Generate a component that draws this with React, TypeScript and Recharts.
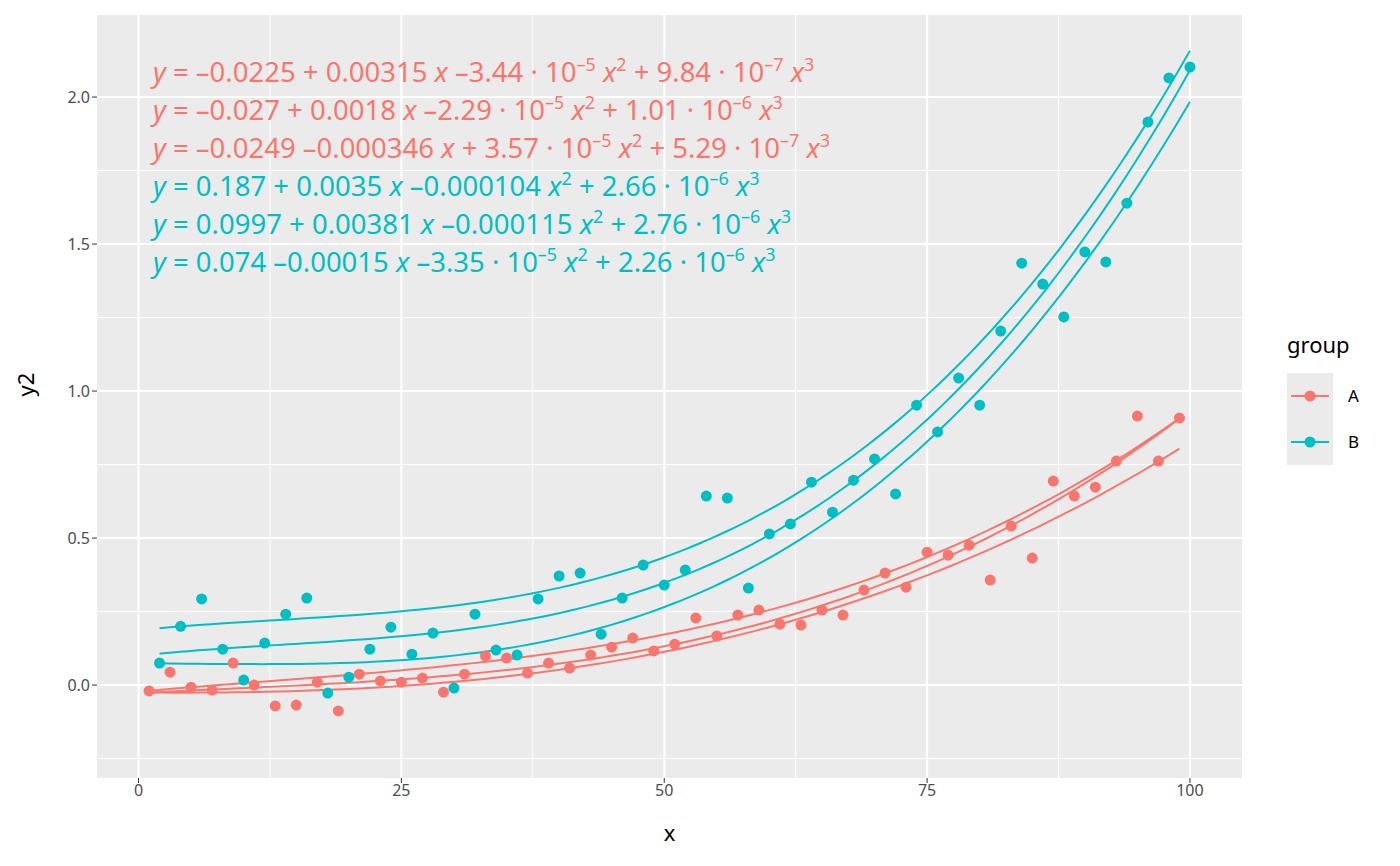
import React from "react";
import { ComposedChart, Scatter, Line, XAxis, YAxis, ReferenceLine, ReferenceArea } from "recharts";

const xA = [1,3,5,7,9,11,13,15,17,19,21,23,25,27,29,31,33,35,37,39,41,43,45,47,49,51,53,55,57,59,61,63,65,67,69,71,73,75,77,79,81,83,85,87,89,91,93,95,97,99];
const yA = [-0.02,0.044,-0.007,-0.017,0.075,0.0,-0.071,-0.068,0.01,-0.088,0.037,0.014,0.01,0.024,-0.024,0.037,0.099,0.092,0.041,0.075,0.058,0.102,0.129,0.16,0.116,0.139,0.228,0.167,0.238,0.255,0.207,0.204,0.255,0.238,0.323,0.381,0.333,0.452,0.442,0.476,0.357,0.541,0.432,0.694,0.643,0.673,0.762,0.915,0.762,0.908];
const xB = [2,4,6,8,10,12,14,16,18,20,22,24,26,28,30,32,34,36,38,40,42,44,46,48,50,52,54,56,58,60,62,64,66,68,70,72,74,76,78,80,82,84,86,88,90,92,94,96,98,100];
const yB = [0.075,0.2,0.293,0.122,0.017,0.143,0.241,0.296,-0.027,0.027,0.122,0.197,0.105,0.177,-0.01,0.241,0.119,0.102,0.293,0.371,0.381,0.173,0.296,0.408,0.34,0.391,0.643,0.636,0.33,0.514,0.548,0.69,0.588,0.697,0.769,0.65,0.952,0.861,1.044,0.952,1.204,1.435,1.364,1.252,1.473,1.439,1.639,1.915,2.065,2.102];

// fitted polynomial coefficients as printed in the chart
const fitsA = [[-0.0225,0.00315,-3.44e-5,9.84e-7],[-0.027,0.0018,-2.29e-5,1.01e-6],[-0.0249,-0.000346,3.57e-5,5.29e-7]];
const fitsB = [[0.187,0.0035,-0.000104,2.66e-6],[0.0997,0.00381,-0.000115,2.76e-6],[0.074,-0.00015,-3.35e-5,2.26e-6]];
const eqA = [
  ["–0.0225 + 0.00315 ", " –3.44 · 10", "–5", "+ 9.84 · 10", "–7"],
  ["–0.027 + 0.0018 ", " –2.29 · 10", "–5", "+ 1.01 · 10", "–6"],
  ["–0.0249 –0.000346 ", " + 3.57 · 10", "–5", "+ 5.29 · 10", "–7"],
];
const eqB = [
  ["0.187 + 0.0035 ", " –0.000104", "", "+ 2.66 · 10", "–6"],
  ["0.0997 + 0.00381 ", " –0.000115", "", "+ 2.76 · 10", "–6"],
  ["0.074 –0.00015 ", " –3.35 · 10", "–5", "+ 2.26 · 10", "–6"],
];

const RED = "#F8766D", CYAN = "#00BFC4";
const ptsA = xA.map((x, i) => ({ x, y: yA[i] }));
const ptsB = xB.map((x, i) => ({ x, y: yB[i] }));
const curve = (c: number[], a: number, b: number) => {
  const out = [];
  for (let i = 0; i <= 80; i++) { const x = a + (b - a) * i / 80; out.push({ x, y: c[0] + c[1]*x + c[2]*x*x + c[3]*x*x*x }); }
  return out;
};

const xMajor = [0,25,50,75,100], xMinor = [12.5,37.5,62.5,87.5];
const yMajor = [0,0.5,1,1.5,2], yMinor = [-0.25,0.25,0.75,1.25,1.75];

function Eq({ p, color, y }: { p: string[]; color: string; y: number }) {
  return (
    <text x={153} y={y} fill={color} fontSize={27.5} fontFamily="Noto Sans" style={{ whiteSpace: "pre" }}>
      <tspan fontStyle="italic">y</tspan><tspan>{" = " + p[0]}</tspan><tspan fontStyle="italic">x</tspan>
      <tspan>{p[1]}</tspan>
      {p[2] ? <tspan dy={-11} fontSize={18}>{p[2]}</tspan> : null}
      <tspan dy={p[2] ? 11 : 0} fontStyle="italic">{" x"}</tspan><tspan dy={-11} fontSize={18}>2</tspan>
      <tspan dy={11}>{" " + p[3]}</tspan><tspan dy={-11} fontSize={18}>{p[4]}</tspan>
      <tspan dy={11} fontStyle="italic">{" x"}</tspan><tspan dy={-11} fontSize={18}>3</tspan>
    </text>
  );
}

export default function App() {
  const tick = { fill: "#4D4D4D", fontSize: 16, fontFamily: "Noto Sans" };
  return (
    <div style={{ position: "absolute", left: 0, top: 0, width: 1400, height: 866, background: "#fff" }}>
      <ComposedChart width={1400} height={866} margin={{ top: 15, right: 158, left: 0, bottom: 0 }}>
        <XAxis dataKey="x" type="number" domain={[-3.95, 104.95]} ticks={xMajor} allowDataOverflow tick={tick}
          axisLine={false} tickLine={{ stroke: "#333" }} tickSize={5} height={88}
          label={{ value: "x", position: "insideBottom", offset: 25, fontSize: 22, fill: "#000", fontFamily: "Noto Sans" }} />
        <YAxis type="number" domain={[-0.316, 2.279]} ticks={yMajor} allowDataOverflow tick={tick} width={97}
          tickFormatter={(v: number) => v.toFixed(1)} axisLine={false} tickLine={{ stroke: "#333" }} tickSize={5}
          label={{ value: "y2", angle: -90, position: "insideLeft", offset: 26, fontSize: 22, fill: "#000", fontFamily: "Noto Sans" }} />
        <ReferenceArea x1={-3.95} x2={104.95} y1={-0.316} y2={2.279} fill="#EBEBEB" fillOpacity={1} stroke="none" />
        {xMinor.map(v => <ReferenceLine key={"xm" + v} x={v} stroke="#fff" strokeWidth={1} />)}
        {yMinor.map(v => <ReferenceLine key={"ym" + v} y={v} stroke="#fff" strokeWidth={1} />)}
        {xMajor.map(v => <ReferenceLine key={"xM" + v} x={v} stroke="#fff" strokeWidth={2} />)}
        {yMajor.map(v => <ReferenceLine key={"yM" + v} y={v} stroke="#fff" strokeWidth={2} />)}
        {fitsA.map((c, i) => <Line key={"la" + i} data={curve(c, 1, 99)} dataKey="y" type="monotone" dot={false} stroke={RED} strokeWidth={2} isAnimationActive={false} />)}
        {fitsB.map((c, i) => <Line key={"lb" + i} data={curve(c, 2, 100)} dataKey="y" type="monotone" dot={false} stroke={CYAN} strokeWidth={2} isAnimationActive={false} />)}
        <Scatter data={ptsA} dataKey="y" fill={RED} shape={(p: any) => <circle cx={p.cx} cy={p.cy} r={5.5} fill={RED} />} isAnimationActive={false} />
        <Scatter data={ptsB} dataKey="y" fill={CYAN} shape={(p: any) => <circle cx={p.cx} cy={p.cy} r={5.5} fill={CYAN} />} isAnimationActive={false} />
      </ComposedChart>
      <svg width={1400} height={866} style={{ position: "absolute", left: 0, top: 0, pointerEvents: "none" }}>
        {eqA.map((p, i) => <Eq key={"a" + i} p={p} color={RED} y={82 + i * 38} />)}
        {eqB.map((p, i) => <Eq key={"b" + i} p={p} color={CYAN} y={196 + i * 38} />)}
        <text x={1287} y={353} fontSize={22} fontFamily="Noto Sans" fill="#000">group</text>
        <rect x={1287} y={373} width={46} height={46} fill="#EBEBEB" />
        <rect x={1287} y={419} width={46} height={46} fill="#EBEBEB" />
        <line x1={1291} x2={1329} y1={396} y2={396} stroke={RED} strokeWidth={2} />
        <circle cx={1310} cy={396} r={5.5} fill={RED} />
        <line x1={1291} x2={1329} y1={442} y2={442} stroke={CYAN} strokeWidth={2} />
        <circle cx={1310} cy={442} r={5.5} fill={CYAN} />
        <text x={1348} y={402} fontSize={17} fontFamily="Noto Sans" fill="#000">A</text>
        <text x={1348} y={448} fontSize={17} fontFamily="Noto Sans" fill="#000">B</text>
      </svg>
    </div>
  );
}
